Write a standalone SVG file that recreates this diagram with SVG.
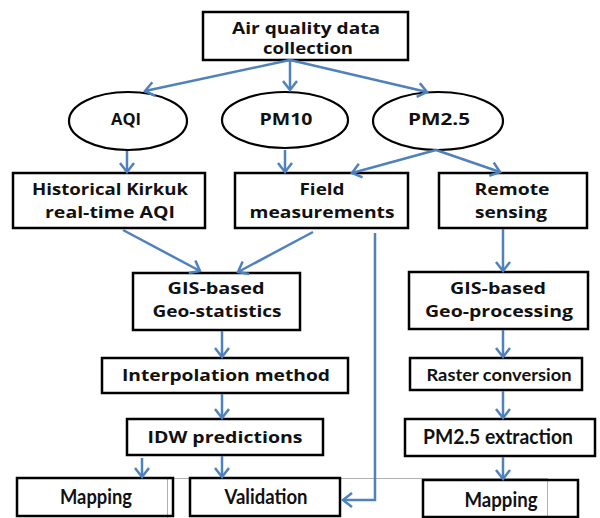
<svg xmlns="http://www.w3.org/2000/svg" width="600" height="518" viewBox="0 0 600 518">
<style>
.bx{fill:none;stroke:#000;stroke-width:2.5}
.el{fill:#fff;stroke:#000;stroke-width:2.2}
.t{font-family:"Open Sans","DejaVu Sans",sans-serif;font-weight:700;font-size:16px;fill:#111;text-anchor:middle}
.c{font-family:Lato,"Liberation Sans",sans-serif;font-weight:700;fill:#111;text-anchor:middle}
.cn{fill:none;stroke:#4F81BD;stroke-width:2.5;marker-end:url(#ah)}
.g{stroke:#b0b0b0;stroke-width:1;fill:none}
</style>
<defs>
<marker id="ah" viewBox="-12 -9 14 18" refX="0" refY="0" markerWidth="14" markerHeight="18" markerUnits="userSpaceOnUse" orient="auto">
<path d="M-9,-7 L0,0 L-9,7" fill="none" stroke="#4F81BD" stroke-width="2.5"/>
</marker>
</defs>
<rect width="600" height="518" fill="#fff"/>
<g id="grid">
<path class="g" d="M167,478.5 H547 M167.5,478 V518 M547.5,478 V518"/>
</g>
<g id="n-top"><rect class="bx" x="203" y="12" width="205" height="48"/>
<text class="t" x="306" y="34" textLength="148" lengthAdjust="spacingAndGlyphs">Air quality data</text>
<text class="t" x="308" y="54" textLength="90" lengthAdjust="spacingAndGlyphs">collection</text></g>
<g id="n-aqi"><ellipse class="el" cx="128" cy="121" rx="59" ry="29"/>
<text class="t" x="126" y="125" textLength="30" lengthAdjust="spacingAndGlyphs">AQI</text></g>
<g id="n-pm10"><ellipse class="el" cx="285" cy="120" rx="63" ry="28"/>
<text class="t" x="286" y="125" textLength="53" lengthAdjust="spacingAndGlyphs">PM10</text></g>
<g id="n-pm25"><ellipse class="el" cx="438" cy="121" rx="65" ry="29"/>
<text class="t" x="439" y="125" textLength="62" lengthAdjust="spacingAndGlyphs">PM2.5</text></g>
<g id="n-hist"><rect class="bx" x="13" y="173" width="192" height="55"/>
<text class="t" x="110" y="195" textLength="156" lengthAdjust="spacingAndGlyphs">Historical Kirkuk</text>
<text class="t" x="110" y="218" textLength="130" lengthAdjust="spacingAndGlyphs">real-time AQI</text></g>
<g id="n-field"><rect class="bx" x="235" y="173" width="173" height="55"/>
<text class="t" x="322" y="195" textLength="45" lengthAdjust="spacingAndGlyphs">Field</text>
<text class="t" x="322" y="218" textLength="145" lengthAdjust="spacingAndGlyphs">measurements</text></g>
<g id="n-remote"><rect class="bx" x="439" y="173" width="148" height="55"/>
<text class="t" x="512" y="195" textLength="75" lengthAdjust="spacingAndGlyphs">Remote</text>
<text class="t" x="511" y="218" textLength="72" lengthAdjust="spacingAndGlyphs">sensing</text></g>
<g id="n-gisstat"><rect class="bx" x="133" y="273" width="167" height="57"/>
<text class="t" x="216" y="294" textLength="97" lengthAdjust="spacingAndGlyphs">GIS-based</text>
<text class="t" x="217" y="317" textLength="129" lengthAdjust="spacingAndGlyphs">Geo-statistics</text></g>
<g id="n-gisproc"><rect class="bx" x="409" y="272" width="179" height="57"/>
<text class="t" x="498" y="294" textLength="96" lengthAdjust="spacingAndGlyphs">GIS-based</text>
<text class="t" x="499" y="317" textLength="148" lengthAdjust="spacingAndGlyphs">Geo-processing</text></g>
<g id="n-interp"><rect class="bx" x="102" y="358" width="246" height="35"/>
<text class="t" x="226" y="381" textLength="208" lengthAdjust="spacingAndGlyphs">Interpolation method</text></g>
<g id="n-raster"><rect class="bx" x="410" y="358" width="172" height="32"/>
<text class="c" x="499" y="381" font-size="17" textLength="145" lengthAdjust="spacingAndGlyphs">Raster conversion</text></g>
<g id="n-idw"><rect class="bx" x="127" y="419" width="196" height="36"/>
<text class="t" x="225" y="443" textLength="155" lengthAdjust="spacingAndGlyphs">IDW predictions</text></g>
<g id="n-extract"><rect class="bx" x="405" y="419" width="190" height="37"/>
<text class="c" x="498" y="444" font-size="21" textLength="150" lengthAdjust="spacingAndGlyphs">PM2.5 extraction</text></g>
<g id="n-map1"><rect class="bx" x="17" y="478" width="156" height="38"/>
<text class="c" x="96" y="504" font-size="20" textLength="72" lengthAdjust="spacingAndGlyphs">Mapping</text></g>
<g id="n-valid"><rect class="bx" x="190" y="478" width="150" height="38"/>
<text class="c" x="266" y="504" font-size="20" textLength="83" lengthAdjust="spacingAndGlyphs">Validation</text></g>
<g id="n-map2"><rect class="bx" x="423" y="480" width="155" height="37"/>
<text class="c" x="501" y="507" font-size="20" textLength="73" lengthAdjust="spacingAndGlyphs">Mapping</text></g>
<g id="connectors">
<path class="cn" d="M290,60 L145,91"/>
<path class="cn" d="M290,60 L290,90"/>
<path class="cn" d="M290,60 L427,92"/>
<path class="cn" d="M127,151 L127,172"/>
<path class="cn" d="M285,150 L285,172"/>
<path class="cn" d="M436,150 L352,173"/>
<path class="cn" d="M436,150 L500,172"/>
<path class="cn" d="M123,230 L200,271"/>
<path class="cn" d="M313,232 L238,272"/>
<path class="cn" d="M222,331 L222,357"/>
<path class="cn" d="M222,394 L222,418"/>
<path class="cn" d="M142,458 L142,477"/>
<path class="cn" d="M222,456 L222,477"/>
<path class="cn" d="M375,233 L375,500 L343,500"/>
<path class="cn" d="M503,229 L503,271"/>
<path class="cn" d="M503,330 L503,357"/>
<path class="cn" d="M503,391 L503,418"/>
<path class="cn" d="M503,457 L503,479"/>
</g>
</svg>
